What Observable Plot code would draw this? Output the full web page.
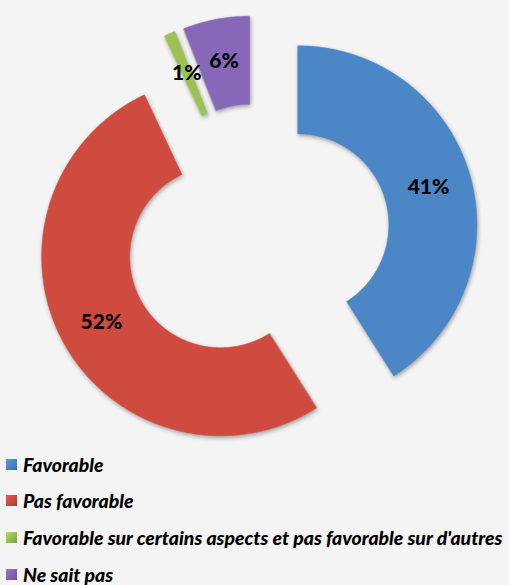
<!DOCTYPE html>
<html><head><meta charset="utf-8">
<script src="https://cdn.jsdelivr.net/npm/d3@7"></script>
<script src="https://cdn.jsdelivr.net/npm/@observablehq/plot@0.6"></script>
<style>
html,body{margin:0;padding:0;background:#f4f4f4;}
body{width:509px;height:585px;overflow:hidden;}
#chart svg{display:block;background:transparent;}
#chart svg g[aria-label="line"]{filter:drop-shadow(1px 2px 2px rgba(0,0,0,0.35));}
#legend{padding-top:1px;}
.row{height:36.6px;display:flex;align-items:center;white-space:nowrap;color:#000;font-style:italic;font-weight:900;}
.sw{display:inline-block;flex:none;width:11px;height:11px;margin-left:6px;margin-right:6px;}
</style></head><body>
<div id="chart"></div>
<div id="legend"></div>
<script>
const categories = ["Favorable", "Pas favorable", "Favorable sur certains aspects et pas favorable sur d'autres", "Ne sait pas"];
const values = [41, 52, 1, 6];
const labels = ["41%", "52%", "1%", "6%"];
const colors = ["#4b87c7", "#cf4b40", "#9cc152", "#8667b8"];

const W = 509, H = 445, cx = 257, cy = 236, R = 179;
const innerR = 0.508, outerR = 1, explode = 0.235, labelR = 0.76;

const pie = d3.pie().sort(null).value(d => d)(values);
const pts = [];
const lab = [];
pie.forEach((p, i) => {
  const a0 = p.startAngle, a1 = p.endAngle, m = (a0 + a1) / 2;
  const ox = explode * Math.sin(m), oy = explode * Math.cos(m);
  const n = Math.max(6, Math.ceil((a1 - a0) / 0.01));
  for (let k = 0; k <= n; k++) {
    const a = a0 + (a1 - a0) * k / n;
    pts.push({cat: categories[i], x: ox + outerR * Math.sin(a), y: oy + outerR * Math.cos(a)});
  }
  for (let k = n; k >= 0; k--) {
    const a = a0 + (a1 - a0) * k / n;
    pts.push({cat: categories[i], x: ox + innerR * Math.sin(a), y: oy + innerR * Math.cos(a)});
  }
  lab.push({text: labels[i], x: ox + labelR * Math.sin(m), y: oy + labelR * Math.cos(m)});
});

const chart = Plot.plot({
  width: W, height: H, margin: 0,
  style: {background: "transparent", overflow: "visible"},
  x: {axis: null, domain: [-cx / R, (W - cx) / R]},
  y: {axis: null, domain: [-(H - cy) / R, cy / R]},
  color: {domain: categories, range: colors},
  marks: [
    Plot.line(pts, {x: "x", y: "y", z: "cat", fill: "cat", stroke: "cat", strokeWidth: 0.5, curve: "linear-closed"}),
    Plot.text(lab, {x: "x", y: "y", text: "text", fill: "#000", fontSize: 21, fontWeight: 900, fontFamily: "Lato, 'Open Sans', sans-serif"})
  ]
});
document.getElementById("chart").appendChild(chart);

const fam = "Lato,'Open Sans',sans-serif";
const leg = document.getElementById("legend");
const spans = [];
categories.forEach((c, i) => {
  const row = document.createElement("div");
  row.className = "row";
  row.style.fontFamily = fam;
  row.style.fontSize = "16px";
  const sw = document.createElement("span");
  sw.className = "sw";
  sw.style.background = `linear-gradient(135deg, ${d3.color(colors[i]).brighter(0.4)}, ${d3.color(colors[i]).darker(0.6)})`;
  row.appendChild(sw);
  const t = document.createElement("span");
  t.textContent = c;
  row.appendChild(t);
  spans.push({row, t});
  leg.appendChild(row);
});
const wLong = spans[2].t.getBoundingClientRect().width;
const fs = Math.min(20, 16 * 480 / wLong);
spans.forEach(s => s.row.style.fontSize = fs + "px");
</script>
</body></html>
